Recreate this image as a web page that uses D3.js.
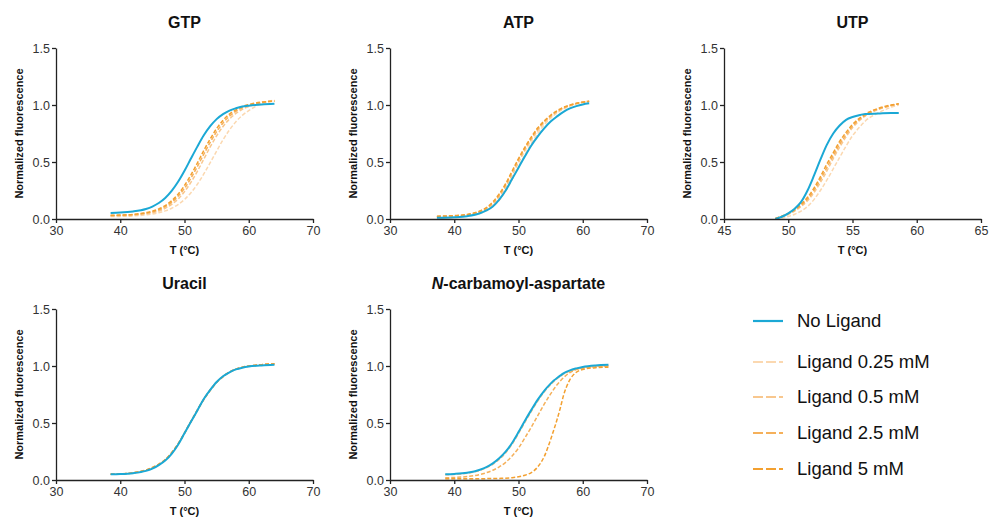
<!DOCTYPE html>
<html>
<head>
<meta charset="utf-8">
<script src="https://cdn.jsdelivr.net/npm/d3@7"></script>
<style>
  body { margin: 0; background: #fff; }
  svg { display: block; font-family: "Liberation Sans", Arial, sans-serif; }
</style>
</head>
<body>
<svg id="chart" width="990" height="521"></svg>
<script>
// series names, drawn back to front
var seriesNames = ["Ligand 0.25 mM", "Ligand 0.5 mM", "Ligand 2.5 mM", "Ligand 5 mM", "No Ligand"];
var legendOrder = ["No Ligand", "Ligand 0.25 mM", "Ligand 0.5 mM", "Ligand 2.5 mM", "Ligand 5 mM"];

// GTP
var gtpTemps = [38.5, 40, 42, 44, 45, 46, 47, 48, 49, 50, 51, 52, 53, 54, 55, 56, 57, 58, 59, 60, 62, 64];
var gtpNone = [0.053, 0.056, 0.066, 0.088, 0.109, 0.14, 0.184, 0.246, 0.326, 0.423, 0.53, 0.635, 0.734, 0.814, 0.876, 0.92, 0.951, 0.971, 0.986, 0.994, 1.004, 1.01];
var gtp025 = [0.022, 0.023, 0.027, 0.036, 0.043, 0.055, 0.071, 0.094, 0.127, 0.171, 0.23, 0.305, 0.395, 0.494, 0.596, 0.695, 0.781, 0.853, 0.909, 0.951, 1.012, 1.045];
var gtp05 = [0.027, 0.029, 0.034, 0.046, 0.055, 0.07, 0.094, 0.128, 0.175, 0.24, 0.322, 0.418, 0.525, 0.632, 0.73, 0.812, 0.877, 0.926, 0.962, 0.987, 1.02, 1.037];
var gtp25 = [0.03, 0.033, 0.038, 0.052, 0.063, 0.081, 0.108, 0.146, 0.2, 0.27, 0.358, 0.46, 0.568, 0.672, 0.766, 0.843, 0.902, 0.945, 0.976, 0.996, 1.022, 1.035];
var gtp5 = [0.032, 0.035, 0.041, 0.056, 0.069, 0.089, 0.118, 0.16, 0.217, 0.294, 0.386, 0.491, 0.601, 0.703, 0.793, 0.866, 0.92, 0.958, 0.986, 1.004, 1.025, 1.033];

// ATP
var atpTemps = [37.3, 40, 42, 44, 45, 46, 47, 48, 49, 50, 51, 52, 53, 54, 55, 56, 57, 58, 59, 60, 61];
var atpNone = [0.01, 0.015, 0.025, 0.05, 0.075, 0.11, 0.17, 0.25, 0.35, 0.45, 0.55, 0.645, 0.725, 0.795, 0.855, 0.9, 0.94, 0.97, 0.99, 1.005, 1.015];
var atp025 = [0.02, 0.022, 0.03, 0.05, 0.072, 0.11, 0.165, 0.245, 0.345, 0.455, 0.565, 0.665, 0.75, 0.825, 0.885, 0.93, 0.965, 0.99, 1.01, 1.025, 1.035];
var atp05 = [0.02, 0.025, 0.035, 0.06, 0.087, 0.13, 0.195, 0.28, 0.385, 0.495, 0.6, 0.695, 0.775, 0.845, 0.895, 0.94, 0.97, 0.995, 1.012, 1.025, 1.035];
var atp25 = [0.022, 0.028, 0.038, 0.066, 0.094, 0.14, 0.21, 0.3, 0.41, 0.52, 0.62, 0.71, 0.79, 0.855, 0.905, 0.945, 0.975, 0.997, 1.013, 1.024, 1.03];
var atp5 = [0.025, 0.03, 0.04, 0.07, 0.1, 0.15, 0.22, 0.31, 0.42, 0.53, 0.63, 0.72, 0.8, 0.86, 0.91, 0.95, 0.98, 1.0, 1.015, 1.025, 1.03];

// UTP
var utpTemps = [49, 49.5, 50, 50.5, 51, 51.5, 52, 52.5, 53, 53.5, 54, 54.5, 55, 55.5, 56, 57, 58, 58.6];
var utpNone = [0.0, 0.02, 0.05, 0.09, 0.15, 0.25, 0.38, 0.52, 0.65, 0.75, 0.82, 0.87, 0.895, 0.91, 0.92, 0.925, 0.93, 0.93];
var utp025 = [0.0, 0.008, 0.022, 0.042, 0.07, 0.11, 0.17, 0.25, 0.34, 0.44, 0.54, 0.64, 0.73, 0.8, 0.86, 0.93, 0.98, 1.0];
var utp05 = [0.004, 0.02, 0.04, 0.07, 0.11, 0.16, 0.23, 0.32, 0.42, 0.53, 0.63, 0.72, 0.8, 0.86, 0.905, 0.96, 0.995, 1.01];
var utp25 = [0.005, 0.022, 0.045, 0.078, 0.12, 0.175, 0.25, 0.345, 0.45, 0.555, 0.655, 0.74, 0.815, 0.87, 0.91, 0.965, 0.995, 1.01];
var utp5 = [0.005, 0.025, 0.05, 0.085, 0.13, 0.19, 0.27, 0.37, 0.48, 0.58, 0.68, 0.76, 0.83, 0.88, 0.92, 0.97, 1.0, 1.01];

// Uracil
var uraTemps = [38.5, 40, 42, 44, 45, 46, 47, 48, 49, 50, 51, 52, 53, 54, 55, 56, 57, 58, 59, 60, 62, 64];
var uraNone = [0.05, 0.052, 0.06, 0.08, 0.1, 0.13, 0.17, 0.23, 0.31, 0.41, 0.51, 0.61, 0.71, 0.79, 0.86, 0.91, 0.945, 0.97, 0.985, 0.995, 1.005, 1.01];
var ura025 = [0.05, 0.053, 0.062, 0.085, 0.105, 0.135, 0.175, 0.235, 0.313, 0.41, 0.51, 0.61, 0.705, 0.785, 0.855, 0.905, 0.945, 0.97, 0.988, 1.0, 1.012, 1.02];
var ura05 = [0.05, 0.053, 0.063, 0.087, 0.108, 0.138, 0.178, 0.238, 0.316, 0.412, 0.512, 0.612, 0.708, 0.788, 0.857, 0.907, 0.946, 0.972, 0.99, 1.0, 1.012, 1.02];
var ura25 = [0.05, 0.053, 0.062, 0.086, 0.106, 0.136, 0.176, 0.236, 0.314, 0.41, 0.51, 0.61, 0.706, 0.786, 0.856, 0.906, 0.945, 0.971, 0.988, 0.999, 1.01, 1.018];
var ura5 = [0.05, 0.053, 0.063, 0.088, 0.11, 0.14, 0.18, 0.24, 0.318, 0.414, 0.514, 0.614, 0.71, 0.79, 0.858, 0.908, 0.947, 0.973, 0.99, 1.0, 1.012, 1.02];

// N-carbamoyl-aspartate
var ncaTemps = [38.6, 40, 42, 44, 45, 46, 47, 48, 49, 50, 51, 52, 53, 54, 55, 55.5, 56, 56.5, 57, 58, 59, 60, 62, 64];
var ncaNone = [0.05, 0.053, 0.063, 0.09, 0.113, 0.146, 0.19, 0.248, 0.325, 0.42, 0.52, 0.615, 0.705, 0.782, 0.845, 0.872, 0.895, 0.915, 0.935, 0.962, 0.979, 0.992, 1.005, 1.01];
var nca025 = [0.048, 0.051, 0.061, 0.087, 0.11, 0.142, 0.186, 0.243, 0.32, 0.414, 0.514, 0.609, 0.699, 0.777, 0.84, 0.868, 0.891, 0.911, 0.931, 0.958, 0.975, 0.988, 1.0, 1.005];
var nca05 = [0.046, 0.049, 0.059, 0.084, 0.107, 0.138, 0.181, 0.237, 0.313, 0.406, 0.506, 0.602, 0.693, 0.772, 0.836, 0.864, 0.888, 0.908, 0.928, 0.955, 0.972, 0.985, 0.998, 1.003];
var nca25 = [0.02, 0.022, 0.03, 0.048, 0.064, 0.086, 0.115, 0.155, 0.21, 0.28, 0.37, 0.465, 0.565, 0.665, 0.755, 0.797, 0.836, 0.868, 0.897, 0.943, 0.968, 0.981, 0.993, 0.998];
var nca5 = [0.01, 0.01, 0.01, 0.011, 0.012, 0.013, 0.014, 0.016, 0.02, 0.028, 0.042, 0.065, 0.115, 0.205, 0.355, 0.44, 0.53, 0.63, 0.74, 0.88, 0.945, 0.97, 0.985, 0.99];

var yTicks = [0, 0.5, 1.0, 1.5];

var panels = [
  { title: "GTP", temps: gtpTemps, xDomain: [30, 70], xTicks: [30, 40, 50, 60, 70],
    series: [gtp025, gtp05, gtp25, gtp5, gtpNone], x0: 56, y0: 48 },
  { title: "ATP", temps: atpTemps, xDomain: [30, 70], xTicks: [30, 40, 50, 60, 70],
    series: [atp025, atp05, atp25, atp5, atpNone], x0: 390, y0: 48 },
  { title: "UTP", temps: utpTemps, xDomain: [45, 65], xTicks: [45, 50, 55, 60, 65],
    series: [utp025, utp05, utp25, utp5, utpNone], x0: 724, y0: 48 },
  { title: "Uracil", temps: uraTemps, xDomain: [30, 70], xTicks: [30, 40, 50, 60, 70],
    series: [ura025, ura05, ura25, ura5, uraNone], x0: 56, y0: 309 },
  { title: "N-carbamoyl-aspartate", temps: ncaTemps, xDomain: [30, 70], xTicks: [30, 40, 50, 60, 70],
    series: [nca025, nca05, nca25, nca5, ncaNone], x0: 390, y0: 309 }
];

var color = d3.scaleOrdinal()
  .domain(seriesNames)
  .range(["#fbd8b0", "#f8c78e", "#f5b05a", "#f3a030", "#1ba8d5"]);

function isDashed(name) { return name !== "No Ligand"; }

var pw = 257, ph = 171;
var svg = d3.select("#chart");

panels.forEach(function (p) {
  var g = svg.append("g").attr("transform", "translate(" + p.x0 + "," + p.y0 + ")");
  var x = d3.scaleLinear().domain(p.xDomain).range([0, pw]);
  var y = d3.scaleLinear().domain([0, 1.5]).range([ph, 0]);

  var line = d3.line()
    .x(function (d) { return x(d[0]); })
    .y(function (d) { return y(d[1]); })
    .curve(d3.curveMonotoneX);

  p.series.forEach(function (vals, i) {
    var name = seriesNames[i];
    var pts = p.temps.map(function (t, k) { return [t, vals[k]]; });
    g.append("path")
      .datum(pts)
      .attr("fill", "none")
      .attr("stroke", color(name))
      .attr("stroke-width", isDashed(name) ? 1.5 : 2)
      .attr("stroke-dasharray", isDashed(name) ? "4,2" : null)
      .attr("d", line);
  });

  var ya = g.append("g")
    .call(d3.axisLeft(y).tickValues(yTicks).tickFormat(d3.format(".1f")).tickSize(4).tickSizeOuter(0).tickPadding(2));
  var xa = g.append("g")
    .attr("transform", "translate(0," + ph + ")")
    .call(d3.axisBottom(x).tickValues(p.xTicks).tickSize(4).tickSizeOuter(0).tickPadding(3));

  [ya, xa].forEach(function (a) {
    a.select(".domain").attr("stroke", "#222").attr("stroke-width", 1.3);
    a.selectAll(".tick line").attr("stroke", "#222").attr("stroke-width", 1.3);
    a.selectAll(".tick text").attr("fill", "#333").style("font-size", "12.5px")
      .style("font-family", "Liberation Sans, Arial, sans-serif");
  });

  // panel title
  var t = g.append("text")
    .attr("x", pw / 2)
    .attr("y", -20)
    .attr("text-anchor", "middle")
    .style("font-size", "16px")
    .style("font-weight", "bold")
    .attr("fill", "#111");
  if (p.title.indexOf("N-") === 0) {
    t.append("tspan").style("font-style", "italic").text("N");
    t.append("tspan").text(p.title.slice(1));
  } else {
    t.text(p.title);
  }

  g.append("text")
    .attr("transform", "translate(-33," + ph / 2 + ") rotate(-90)")
    .attr("text-anchor", "middle")
    .style("font-size", "11px")
    .style("font-weight", "bold")
    .attr("fill", "#111")
    .text("Normalized fluorescence");

  g.append("text")
    .attr("x", pw / 2)
    .attr("y", ph + 35)
    .attr("text-anchor", "middle")
    .style("font-size", "11px")
    .style("font-weight", "bold")
    .attr("fill", "#111")
    .text("T (°C)");
});

// legend
var legendY = [321, 362, 397, 433, 469];
var lg = svg.append("g");
legendOrder.forEach(function (name, i) {
  lg.append("line")
    .attr("x1", 753).attr("x2", 783)
    .attr("y1", legendY[i]).attr("y2", legendY[i])
    .attr("stroke", color(name))
    .attr("stroke-width", 2.2)
    .attr("stroke-dasharray", isDashed(name) ? "10,3" : null);
  lg.append("text")
    .attr("x", 797)
    .attr("y", legendY[i])
    .attr("dy", "0.35em")
    .style("font-size", "18.5px")
    .attr("fill", "#111")
    .text(name);
});
</script>
</body>
</html>
